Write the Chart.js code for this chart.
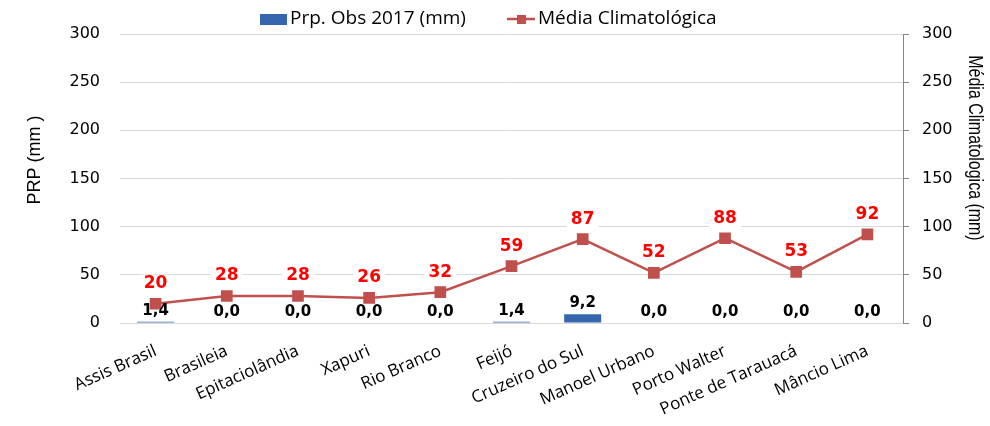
<!DOCTYPE html>
<html>
<head>
<meta charset="utf-8">
<script src="https://cdn.jsdelivr.net/npm/chart.js@4.4.0/dist/chart.umd.min.js"></script>
<style>
    html, body { margin: 0; padding: 0; background: #fff; }
    #wrap { width: 990px; height: 426px; }
</style>
</head>
<body>
<div id="wrap"><canvas id="prpChart" width="990" height="426"></canvas></div>
<script>
const stations = ["Assis Brasil", "Brasileia", "Epitaciolândia", "Xapuri", "Rio Branco", "Feijó",
    "Cruzeiro do Sul", "Manoel Urbano", "Porto Walter", "Ponte de Tarauacá", "Mâncio Lima"];
const prpObs2017 = [1.4, 0, 0, 0, 0, 1.4, 9.2, 0, 0, 0, 0];
const mediaClimatologica = [20, 28, 28, 26, 32, 59, 87, 52, 88, 53, 92];
const axisTicks = [0, 50, 100, 150, 200, 250, 300];

const barColor = "#3566ad";
const lineColor = "#c0504d";

// value labels, legend and axis titles drawn on top of the chart
const overlayPlugin = {
    id: "overlay",
    afterDatasetsDraw(chart) {
        const ctx = chart.ctx;
        ctx.save();
        ctx.textAlign = "center";
        ctx.textBaseline = "middle";

        // bar labels
        ctx.font = "bold 15px 'DejaVu Sans'";
        chart.getDatasetMeta(0).data.forEach((bar, i) => {
            const txt = prpObs2017[i].toFixed(1).replace(".", ",");
            ctx.fillStyle = "#000";
            ctx.fillText(txt, bar.x, bar.y - 11);
        });

        // line labels
        ctx.font = "bold 17px 'DejaVu Sans'";
        chart.getDatasetMeta(1).data.forEach((pt, i) => {
            const txt = String(mediaClimatologica[i]);
            const w = ctx.measureText(txt).width;
            ctx.fillStyle = "#fff";
            ctx.fillRect(pt.x - w / 2 - 4, pt.y - 29, w + 8, 19);
            ctx.fillStyle = "#ff0000";
            ctx.fillText(txt, pt.x, pt.y - 20);
        });

        // legend
        ctx.textAlign = "left";
        ctx.font = "19px 'Open Sans'";
        ctx.fillStyle = barColor;
        ctx.fillRect(260, 14, 27, 11);
        ctx.fillStyle = "#000";
        ctx.fillText("Prp. Obs 2017 (mm)", 290, 19);
        ctx.strokeStyle = lineColor;
        ctx.lineWidth = 2.5;
        ctx.beginPath();
        ctx.moveTo(507, 19);
        ctx.lineTo(535, 19);
        ctx.stroke();
        ctx.fillStyle = lineColor;
        ctx.fillRect(517, 15, 9, 9);
        ctx.fillStyle = "#000";
        ctx.fillText("Média Climatológica", 538, 19);

        // axis titles
        ctx.textAlign = "center";
        ctx.font = "18px 'Liberation Sans'";
        ctx.save();
        ctx.translate(35, 160);
        ctx.rotate(-Math.PI / 2);
        ctx.fillText("PRP (mm )", 0, 0);
        ctx.restore();
        ctx.font = "21px 'Liberation Sans'";
        ctx.save();
        ctx.translate(975, 148);
        ctx.rotate(Math.PI / 2);
        ctx.scale(0.76, 1);
        ctx.fillText("Média Climatologica (mm)", 0, 0);
        ctx.restore();

        ctx.restore();
    }
};

const ctx = document.getElementById("prpChart").getContext("2d");
new Chart(ctx, {
    data: {
        labels: stations,
        datasets: [{
            type: "bar",
            label: "Prp. Obs 2017 (mm)",
            data: prpObs2017,
            backgroundColor: barColor,
            yAxisID: "y",
            categoryPercentage: 1,
            barPercentage: 0.52,
            order: 2
        }, {
            type: "line",
            label: "Média Climatológica",
            data: mediaClimatologica,
            borderColor: lineColor,
            backgroundColor: lineColor,
            borderWidth: 2.5,
            pointStyle: "rect",
            pointRadius: 6.5,
            pointHoverRadius: 6.5,
            tension: 0,
            yAxisID: "y1",
            order: 1
        }]
    },
    options: {
        responsive: false,
        animation: false,
        layout: { padding: { top: 34, left: 0, right: 0, bottom: 0 } },
        plugins: {
            legend: { display: false },
            tooltip: { enabled: false }
        },
        scales: {
            x: {
                grid: { display: false },
                border: { display: false },
                ticks: {
                    color: "#000",
                    font: { family: "'Open Sans'", size: 17 },
                    minRotation: 24,
                    maxRotation: 24,
                    padding: 10,
                    autoSkip: false
                },
                afterFit(scale) { scale.height = 103; }
            },
            y: {
                position: "left",
                min: 0,
                max: 300,
                afterBuildTicks(scale) { scale.ticks = axisTicks.map(v => ({ value: v })); },
                grid: { color: "#d9d9d9", drawTicks: false },
                border: { display: false },
                ticks: {
                    color: "#000",
                    font: { family: "'DejaVu Sans'", size: 16 },
                    padding: 20
                },
                afterFit(scale) { scale.width = 120; }
            },
            y1: {
                position: "right",
                min: 0,
                max: 300,
                afterBuildTicks(scale) { scale.ticks = axisTicks.map(v => ({ value: v })); },
                grid: { drawOnChartArea: false, color: "#868686", tickLength: 6 },
                border: { display: true, color: "#868686" },
                ticks: {
                    color: "#000",
                    font: { family: "'DejaVu Sans'", size: 16 },
                    padding: 13
                },
                afterFit(scale) { scale.width = 87; }
            }
        }
    },
    plugins: [overlayPlugin]
});
</script>
</body>
</html>
